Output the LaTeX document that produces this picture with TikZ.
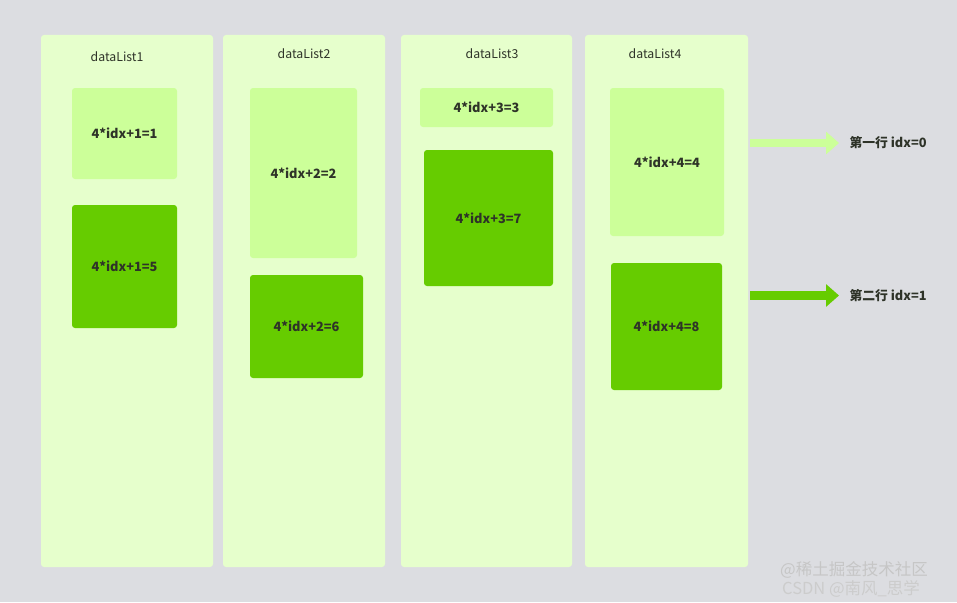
\documentclass[tikz,border=0pt]{standalone}
\usepackage{fontspec}
\setmainfont{Noto Sans CJK SC}
\usetikzlibrary{arrows.meta}
\definecolor{bg}{HTML}{DCDDE1}
\definecolor{colfill}{HTML}{E6FFCC}
\definecolor{lightbox}{HTML}{CCFF99}
\definecolor{darkbox}{HTML}{66CC00}
\definecolor{txt}{HTML}{2E3328}
\tikzset{
  column/.style={fill=colfill, rounded corners=3pt},
  lbox/.style={fill=lightbox, rounded corners=3pt},
  dbox/.style={fill=darkbox, rounded corners=3pt},
  boxtext/.style={font=\fontsize{12.8}{15}\selectfont\bfseries, text=txt},
  collabel/.style={font=\fontsize{12.3}{14}\selectfont, text=txt},
  rowlabel/.style={font=\fontsize{12.8}{15}\selectfont\bfseries, text=txt, anchor=west},
  bigarrow/.style={line width=8.5pt, -{Triangle[width=22pt,length=13pt]}},
  wm/.style={font=\fontsize{16.5}{18}\selectfont, anchor=west, inner sep=0pt}
}
\begin{document}
\begin{tikzpicture}[x=1pt,y=-1pt]
\useasboundingbox[fill=bg] (0,0) rectangle (957,602);
% columns
\path[column] (41,35) rectangle (213,567);
\path[column] (223,35) rectangle (385,567);
\path[column] (401,35) rectangle (572,567);
\path[column] (585,35) rectangle (748,567);
% column labels
\node[collabel] (l1) at (117,57) {dataList1};
\node[collabel] (l2) at (304,54) {dataList2};
\node[collabel] (l3) at (492,54) {dataList3};
\node[collabel] (l4) at (655,54) {dataList4};
% boxes
\path[lbox] (72,88) rectangle (177,179);
\node[boxtext] (b1) at (124.5,133.5) {4*idx+1=1};
\path[dbox] (72,205) rectangle (177,328);
\node[boxtext] (b5) at (124.5,266.5) {4*idx+1=5};
\path[lbox] (250,88) rectangle (357,258);
\node[boxtext] (b2) at (303.5,173) {4*idx+2=2};
\path[dbox] (250,275) rectangle (363,378);
\node[boxtext] (b6) at (306.5,326.5) {4*idx+2=6};
\path[lbox] (420,88) rectangle (553,127);
\node[boxtext] (b3) at (486.5,107.5) {4*idx+3=3};
\path[dbox] (424,150) rectangle (553,286);
\node[boxtext] (b7) at (488.5,218) {4*idx+3=7};
\path[lbox] (610,88) rectangle (724,236);
\node[boxtext] (b4) at (667,162) {4*idx+4=4};
\path[dbox] (611,263) rectangle (722,390);
\node[boxtext] (b8) at (666.5,326.5) {4*idx+4=8};
% arrows
\coordinate (a1s) at (750,143);
\coordinate (a1e) at (839,143);
\coordinate (a2s) at (750,295.5);
\coordinate (a2e) at (839,295.5);
\draw[bigarrow, draw=lightbox, fill=lightbox] (a1s) -- (a1e);
\draw[bigarrow, draw=darkbox, fill=darkbox] (a2s) -- (a2e);
\node[rowlabel] (r1) at (846,143) {第一行 idx=0};
\node[rowlabel] (r2) at (846,296) {第二行 idx=1};
% watermark
\node[wm, text=white!55!gray] (w1) at (780,570) {@稀土掘金技术社区};
\node[wm, text=white!60!gray] (w2) at (782,589) {CSDN @南风\_思学};
\end{tikzpicture}
\end{document}
